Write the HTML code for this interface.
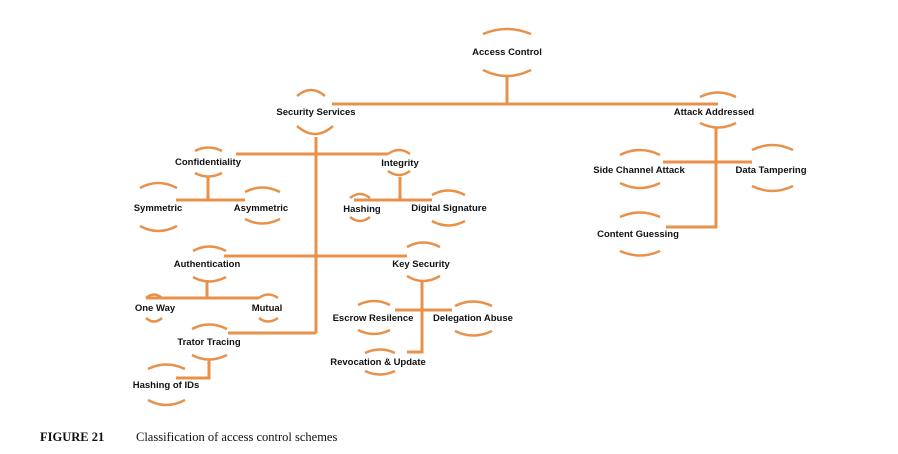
<!DOCTYPE html>
<html><head><style>
html,body{margin:0;padding:0;background:#fff;}
svg{display:block}
.l{font-family:"Liberation Sans",sans-serif;font-weight:bold;font-size:9.5px;fill:#111;text-anchor:middle}
</style></head><body>
<svg width="898" height="454" viewBox="0 0 898 454" xmlns="http://www.w3.org/2000/svg">
<g stroke="#e8914a" stroke-width="3" fill="none">
<!-- connectors -->
<path d="M507 76V104M332 104H718"/>
<path d="M316 137V333M236 154H388M224 256H407M228 333H316"/>
<path d="M208 177V200M176 200H245"/>
<path d="M400 177V200M354 200H432"/>
<path d="M207 280V298M146 298H259"/>
<path d="M209 360V378H176"/>
<path d="M422 280V352H407M395 310H452"/>
<path d="M716 127V227H666M663 162H752"/>
</g>
<g stroke="#e8914a" stroke-width="2.5" fill="none">
<!-- arcs: top (convex up), bottom (convex down) -->
<path d="M483 34Q507 24 531 34M483 70Q507 82 531 70"/>
<path d="M297 96Q311 84 325 96M297 126Q315 142 333 126"/>
<path d="M195 151Q208 144 222 151M195 173Q208 180 222 173"/>
<path d="M140 188Q158 178 177 188M140 226Q158 236 177 226"/>
<path d="M245 192Q262 183 280 192M245 219Q262 228 280 219"/>
<path d="M388 154Q399 146 410 154M388 171Q399 179 410 171"/>
<path d="M350 198Q360 190 370 198M350 217Q360 225 370 217"/>
<path d="M432 195Q448 186 465 195M432 221Q448 230 465 221"/>
<path d="M193 251Q209 242 226 251M193 277Q209 286 226 277"/>
<path d="M146 298Q154 291 162 298M146 318Q154 325 162 318"/>
<path d="M259 298Q268 291 278 298M259 318Q268 325 278 318"/>
<path d="M192 329Q209 320 227 329M192 355Q209 364 227 355"/>
<path d="M148 369Q166 360 185 369M148 400Q166 410 185 400"/>
<path d="M407 247Q423 238 440 247M407 276Q423 286 440 276"/>
<path d="M358 305Q374 297 390 305M358 330Q374 338 390 330"/>
<path d="M455 306Q473 297 492 306M455 331Q473 340 492 331"/>
<path d="M365 353Q380 346 395 353M365 371Q380 378 395 371"/>
<path d="M700 97Q718 88 736 97M700 123Q718 132 736 123"/>
<path d="M620 155Q640 145 660 155M620 183Q640 193 660 183"/>
<path d="M752 150Q772 140 793 150M752 186Q772 196 793 186"/>
<path d="M620 217Q640 208 660 217M620 251Q640 260 660 251"/>
</g>
<g class="l">
<text x="507" y="55">Access Control</text>
<text x="316" y="115">Security Services</text>
<text x="208" y="165">Confidentiality</text>
<text x="158" y="211">Symmetric</text>
<text x="261" y="211">Asymmetric</text>
<text x="400" y="166">Integrity</text>
<text x="362" y="212">Hashing</text>
<text x="449" y="211">Digital Signature</text>
<text x="207" y="267">Authentication</text>
<text x="155" y="311">One Way</text>
<text x="267" y="311">Mutual</text>
<text x="209" y="345">Trator Tracing</text>
<text x="166" y="388">Hashing of IDs</text>
<text x="421" y="267">Key Security</text>
<text x="373" y="321">Escrow Resilence</text>
<text x="473" y="321">Delegation Abuse</text>
<text x="378" y="365">Revocation &amp; Update</text>
<text x="714" y="115">Attack Addressed</text>
<text x="639" y="173">Side Channel Attack</text>
<text x="771" y="173">Data Tampering</text>
<text x="638" y="237">Content Guessing</text>
</g>
<text x="40" y="441" font-family="Liberation Serif,serif" font-weight="bold" font-size="12.5" fill="#111">FIGURE 21</text>
<text x="136" y="441" font-family="Liberation Serif,serif" font-size="12.5" fill="#111">Classification of access control schemes</text>
</svg>
</body></html>
